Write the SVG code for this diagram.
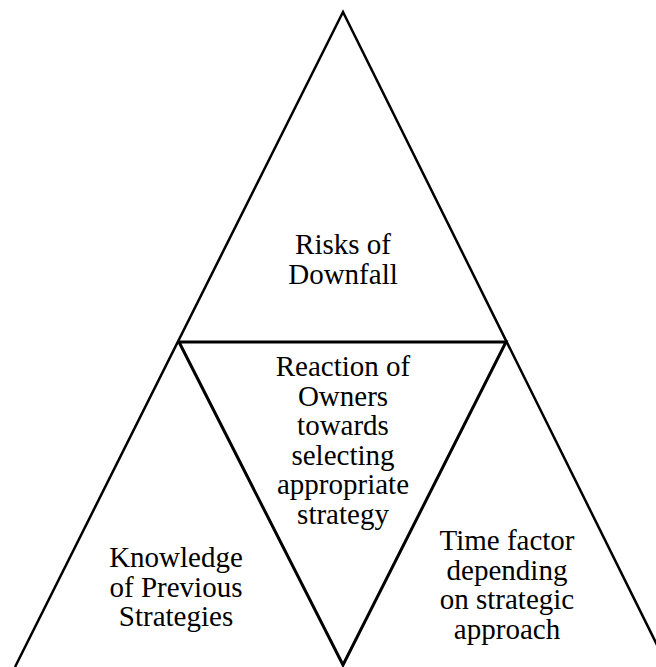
<svg xmlns="http://www.w3.org/2000/svg" width="656" height="667" viewBox="0 0 656 667">
<style>
.t{font-family:"Liberation Serif","Times New Roman",serif;font-size:29px;fill:#000;text-anchor:middle}
.o{stroke:#000;stroke-width:2.5;fill:none;stroke-linejoin:miter}
.i{stroke:#000;stroke-width:3;fill:none}
</style>
<rect width="656" height="667" fill="#fff"/>
<g id="connectors">
<polyline class="o" points="15,667 343,12 668,667"/>
<polyline class="i" points="179,342 343,665 506,342 179,342"/>
</g>
<g id="top">
<text class="t" x="343" y="254">Risks of</text>
<text class="t" x="343" y="284">Downfall</text>
</g>
<g id="middle">
<text class="t" x="343" y="376">Reaction of</text>
<text class="t" x="343" y="405.5">Owners</text>
<text class="t" x="343" y="435">towards</text>
<text class="t" x="343" y="464.5">selecting</text>
<text class="t" x="343" y="494">appropriate</text>
<text class="t" x="343" y="523.5">strategy</text>
</g>
<g id="left">
<text class="t" x="176" y="567">Knowledge</text>
<text class="t" x="176" y="596.5">of Previous</text>
<text class="t" x="176" y="626">Strategies</text>
</g>
<g id="right">
<text class="t" x="507" y="550">Time factor</text>
<text class="t" x="507" y="579.5">depending</text>
<text class="t" x="507" y="609">on strategic</text>
<text class="t" x="507" y="638.5">approach</text>
</g>
</svg>
